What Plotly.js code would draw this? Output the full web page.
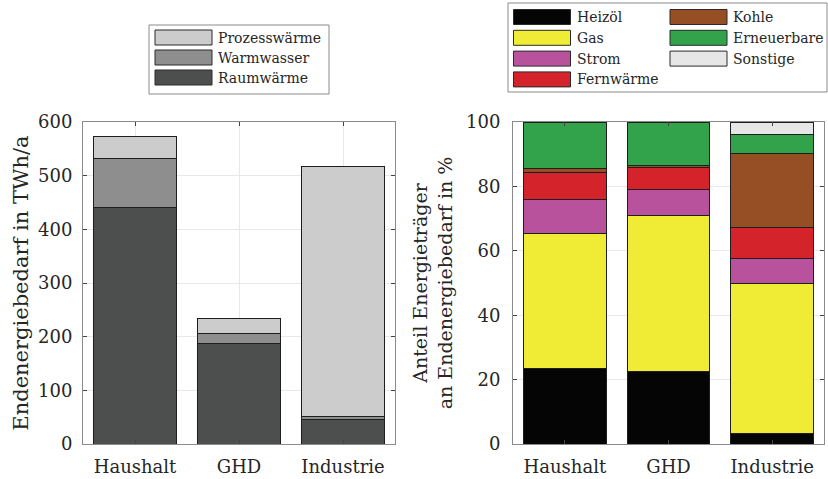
<!DOCTYPE html>
<html>
<head>
<meta charset="utf-8">
<script src="https://cdn.plot.ly/plotly-3.0.1.min.js"></script>
<style>html,body{margin:0;padding:0;background:#fff;}#chart{width:828px;height:479px;}</style>
</head>
<body>
<div id="chart"></div>
<script>
// ---- Data ----
const categories = ['Haushalt', 'GHD', 'Industrie'];

// Left: Endenergiebedarf in TWh/a
const useNames = ['Raumwärme', 'Warmwasser', 'Prozesswärme'];
const raumwaerme = [440, 188, 46];
const warmwasser = [92, 17, 5];
const prozesswaerme = [41, 28, 466];

// Right: Anteil Energieträger in %
const carrierNames = ['Heizöl', 'Gas', 'Strom', 'Fernwärme', 'Kohle', 'Erneuerbare', 'Sonstige'];
const heizoel = [23.6, 22.6, 3.4];
const gas = [41.7, 48.4, 46.5];
const strom = [10.7, 8.1, 7.8];
const fernwaerme = [8.3, 6.8, 9.4];
const kohle = [1.4, 0.7, 23.2];
const erneuerbare = [14.3, 13.4, 5.9];
const sonstige = [0, 0, 3.8];

const yTicksLeft = [0, 100, 200, 300, 400, 500, 600];
const yTicksRight = [0, 20, 40, 60, 80, 100];

// ---- Styles ----
const FONT = 'DejaVu Serif, Liberation Serif, serif';
const TXT = '#262626';
const useColors = ['#4d4f4f', '#8e8e8e', '#cccccc'];
const carrierColors = ['#050505', '#f0ec35', '#b8529c', '#d5232b', '#964e24', '#32a34a', '#e6e6e6'];
const W = 828, H = 479;
const px = x => x / W;
const py = y => 1 - y / H;

const useSeries = [raumwaerme, warmwasser, prozesswaerme];
const carrierSeries = [heizoel, gas, strom, fernwaerme, kohle, erneuerbare, sonstige];

const traces = [];
useSeries.forEach((vals, i) => {
  traces.push({
    type: 'bar', x: categories, y: vals, name: useNames[i],
    xaxis: 'x', yaxis: 'y', width: 0.8,
    marker: {color: useColors[i], line: {color: '#1e1e1e', width: 1}},
    showlegend: false, hoverinfo: 'x+y+name'
  });
});
carrierSeries.forEach((vals, i) => {
  traces.push({
    type: 'bar', x: categories, y: vals, name: carrierNames[i],
    xaxis: 'x2', yaxis: 'y2', width: 0.8,
    marker: {color: carrierColors[i], line: {color: '#1e1e1e', width: 1}},
    showlegend: false, hoverinfo: 'x+y+name'
  });
});

const axisCommon = {
  showline: true, linecolor: '#8a8a8a', linewidth: 1, mirror: 'ticks',
  ticks: 'inside', ticklen: 4, tickcolor: '#444', tickwidth: 1,
  showgrid: true, gridcolor: '#e8e8e8', gridwidth: 1, zeroline: false,
  tickfont: {family: FONT, size: 18, color: TXT}, fixedrange: true
};

// ---- Legends (drawn as shapes + text from the name/color arrays) ----
const shapes = [];
const annotations = [];
function legendBox(x0, y0, x1, y1) {
  shapes.push({type: 'rect', xref: 'paper', yref: 'paper', x0: px(x0), x1: px(x1), y0: py(y1), y1: py(y0),
    line: {color: '#8a8a8a', width: 1}, fillcolor: 'rgba(255,255,255,1)', layer: 'above'});
}
function legendItem(x, yc, name, color) {
  shapes.push({type: 'rect', xref: 'paper', yref: 'paper', x0: px(x), x1: px(x + 57), y0: py(yc + 7.5), y1: py(yc - 7.5),
    line: {color: '#2a2a2a', width: 1}, fillcolor: color, layer: 'above'});
  annotations.push({xref: 'paper', yref: 'paper', x: px(x + 61), y: py(yc), xanchor: 'left', yanchor: 'middle',
    text: name, showarrow: false, font: {family: FONT, size: 14, color: TXT}});
}
// left legend (Prozesswärme on top)
legendBox(149, 25, 329, 94);
[2, 1, 0].forEach((k, r) => legendItem(155, 37.5 + r * 20, useNames[k], useColors[k]));
// right legend: two columns
legendBox(508, 3, 827, 92);
[0, 1, 2, 3].forEach((k, r) => legendItem(513.5, 17 + r * 20.8, carrierNames[k], carrierColors[k]));
[4, 5, 6].forEach((k, r) => legendItem(670, 17 + r * 20.8, carrierNames[k], carrierColors[k]));

const layout = {
  width: W, height: H,
  margin: {l: 0, r: 0, t: 0, b: 0},
  paper_bgcolor: '#ffffff', plot_bgcolor: '#ffffff',
  barmode: 'stack', bargap: 0.2,
  font: {family: FONT, color: TXT},
  showlegend: false,
  xaxis: Object.assign({}, axisCommon, {domain: [px(83), px(395)], range: [-0.5, 2.5], type: 'category', anchor: 'y', ticklabelstandoff: 6}),
  yaxis: Object.assign({}, axisCommon, {domain: [py(444), py(122)], range: [0, 600], tickvals: yTicksLeft, anchor: 'x', ticklabelstandoff: 6,
    title: {text: 'Endenergiebedarf in TWh/a', font: {family: FONT, size: 21, color: TXT}, standoff: 3}}),
  xaxis2: Object.assign({}, axisCommon, {domain: [px(513), px(824)], range: [-0.5, 2.5], type: 'category', anchor: 'y2', ticklabelstandoff: 6}),
  yaxis2: Object.assign({}, axisCommon, {domain: [py(444), py(122)], range: [0, 100], tickvals: yTicksRight, anchor: 'x2', ticklabelstandoff: 8,
    title: {text: 'Anteil Energieträger<br>an Endenergiebedarf in %', font: {family: FONT, size: 19, color: TXT}, standoff: 8}}),
  shapes: shapes,
  annotations: annotations
};

Plotly.newPlot('chart', traces, layout, {displayModeBar: false, staticPlot: true});
</script>
</body>
</html>
